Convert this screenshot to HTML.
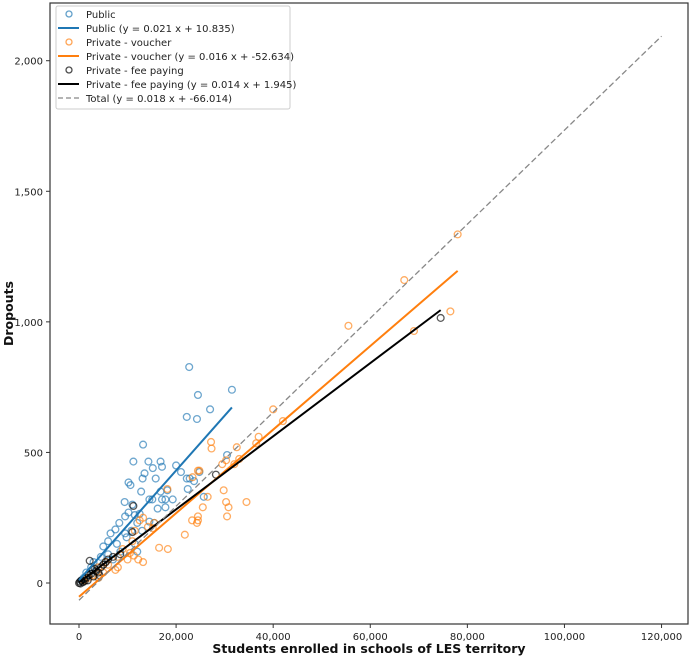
<!DOCTYPE html>
<html><head><meta charset="utf-8"><style>
body{margin:0;background:#fff;font-family:"Liberation Sans","DejaVu Sans",sans-serif}
svg text{font-family:"DejaVu Sans","Liberation Sans",sans-serif}
</style></head><body>
<svg id="chart" width="690" height="658">
<g id="ax"></g>
<g id="marks"></g>
<g id="legend"></g>
</svg>
<script>
const xTicks=[0,20000,40000,60000,80000,100000,120000];
const yTicks=[0,500,1000,1500,2000];
const publicPts=[[22.7,827],[31.5,740],[24.5,720],[27,665],[22.2,636],[24.3,628],[13.2,530],[30.5,490],[11.2,465],[14.3,465],[16.8,465],[17.1,445],[20,450],[21,425],[15.2,440],[13.5,420],[13.1,400],[15.8,400],[10.2,385],[10.6,375],[22.2,400],[22.8,400],[23.7,390],[24.8,425],[18.2,355],[16.8,350],[12.8,350],[22.4,360],[14.5,320],[15.1,320],[17.1,320],[17.8,320],[19.3,320],[25.7,330],[9.4,310],[11,300],[16.2,285],[17.8,290],[10.2,270],[9.5,255],[11.5,260],[12.5,265],[14.5,235],[15.5,230],[8.3,230],[12,230],[10.8,200],[7.5,205],[6.5,190],[9.5,190],[9.8,175],[6,160],[7.8,150],[5,140],[11.5,150],[8.5,120],[6,110],[4.5,100],[3,80],[2.5,60],[5,70],[1.5,40],[2,30],[3.5,50],[1,20],[0.5,10],[4,20],[7,90],[13,200],[12,120]];
const voucherPts=[[78,1335],[67,1160],[55.5,985],[76.5,1040],[69,965],[40,665],[42,620],[37,560],[36.5,535],[33,475],[32.5,520],[32,455],[27.2,540],[27.3,515],[30.3,470],[29.5,455],[24.8,430],[24.5,430],[23.4,405],[26.5,330],[29.8,355],[30.3,310],[30.8,290],[30.5,255],[34.5,310],[25.5,290],[24.5,255],[24.5,240],[24.3,230],[23.3,240],[21.8,185],[18.2,360],[16.5,135],[18.3,130],[15.5,230],[15.2,210],[14.2,215],[12.5,240],[11.5,200],[11,160],[13.2,250],[11.3,105],[10.5,115],[10,90],[12.2,90],[13.2,80],[8,100],[8,60],[7.5,50],[5.5,80],[5,40],[4,60],[3,30],[2,20],[1,10],[4,20],[6,70],[9,130]];
const feePts=[[74.5,1015],[28.2,415],[11.2,295],[11,195],[2.2,85],[8.5,110],[6,90],[0,0],[0.2,5],[0.5,10],[0.8,3],[1,15],[1.5,20],[1.2,8],[2,30],[2.5,35],[3,25],[3.5,45],[4,40],[3.2,55],[4.5,60],[5,70],[5.5,80],[0.3,-2],[1.8,10],[2.8,50],[4.2,30],[7,100]];
const fits=[{name:"public-fit",m:0.021,b:10.835,x0:0,x1:31500,c:"#1f77b4",d:""},{name:"voucher-fit",m:0.016,b:-52.634,x0:0,x1:78000,c:"#ff7f0e",d:""},{name:"fee-fit",m:0.014,b:1.945,x0:0,x1:74500,c:"#000",d:""},{name:"total-fit",m:0.018,b:-66.014,x0:0,x1:120000,c:"#888",d:"6,3"}];
const L=50,R=688,T=3,B=624;
const X0=-5974,X1=125450,Y0=-157,Y1=2221;
const sx=v=>L+(v-X0)/(X1-X0)*(R-L);
const sy=v=>B-(v-Y0)/(Y1-Y0)*(B-T);
const NS="http://www.w3.org/2000/svg";
function mk(p,t,a){const e=document.createElementNS(NS,t);for(const k in a)e.setAttribute(k,a[k]);p.appendChild(e);return e;}
const ax=document.getElementById('ax'),mg=document.getElementById('marks'),lg=document.getElementById('legend');
const fr=mk(ax,'rect',{x:L,y:T,width:R-L,height:B-T,fill:'none',stroke:'#333','stroke-width':1.2});

xTicks.forEach(v=>{const x=sx(v);mk(ax,'line',{x1:x,x2:x,y1:B,y2:B+4,stroke:'#333'});
const t=mk(ax,'text',{x:x,y:B+16,'text-anchor':'middle','font-size':10,fill:'#222'});t.textContent=v.toLocaleString('en-US');
});
yTicks.forEach(v=>{const y=sy(v);mk(ax,'line',{x1:L-4,x2:L,y1:y,y2:y,stroke:'#333'});
const t=mk(ax,'text',{x:L-7,y:y+4,'text-anchor':'end','font-size':10,fill:'#222'});t.textContent=v.toLocaleString('en-US');
});
const xt=mk(ax,'text',{x:(L+R)/2,y:653,'text-anchor':'middle','font-size':12.5,'font-weight':'bold',fill:'#111'});xt.textContent='Students enrolled in schools of LES territory';

const yt=mk(ax,'text',{x:0,y:0,'text-anchor':'middle','font-size':12.5,'font-weight':'bold',fill:'#111',transform:`translate(13,${(T+B)/2}) rotate(-90)`});yt.textContent='Dropouts';

function pts(arr,c,name){arr.forEach(p=>{const e=mk(mg,'circle',{cx:sx(p[0]*1000),cy:sy(p[1]),r:3.4,fill:'none',stroke:c,'stroke-width':1.3,'stroke-opacity':0.65});
});}
pts(publicPts,'#1f77b4','public-point');pts(voucherPts,'#ff7f0e','voucher-point');pts(feePts,'#000','fee-paying-point');
fits.forEach(f=>{const e=mk(mg,'line',{x1:sx(f.x0),y1:sy(f.m*f.x0+f.b),x2:sx(f.x1),y2:sy(f.m*f.x1+f.b),stroke:f.c,'stroke-width':f.d?1.3:2,'stroke-dasharray':f.d});
});
mk(lg,'rect',{x:56,y:6,width:234,height:103,fill:'#fff','fill-opacity':0.85,stroke:'#ccc',rx:2});
const items=[["c","#1f77b4","Public"],["l","#1f77b4","Public (y = 0.021 x + 10.835)"],["c","#ff7f0e","Private - voucher"],["l","#ff7f0e","Private - voucher (y = 0.016 x + -52.634)"],["c","#000","Private - fee paying"],["l","#000","Private - fee paying (y = 0.014 x + 1.945)"],["d","#888","Total (y = 0.018 x + -66.014)"]];
items.forEach((it,i)=>{const y=14+i*14;
if(it[0]=="c")mk(lg,'circle',{cx:69,cy:y,r:3,fill:'none',stroke:it[1],'stroke-width':1.3,'stroke-opacity':0.7});
else mk(lg,'line',{x1:58,x2:79,y1:y,y2:y,stroke:it[1],'stroke-width':it[0]=="d"?1.3:2,'stroke-dasharray':it[0]=="d"?"5,3":""});
const t=mk(lg,'text',{x:86,y:y+4,'font-size':10,fill:'#222'});t.textContent=it[2];
});
</script>
</body></html>
